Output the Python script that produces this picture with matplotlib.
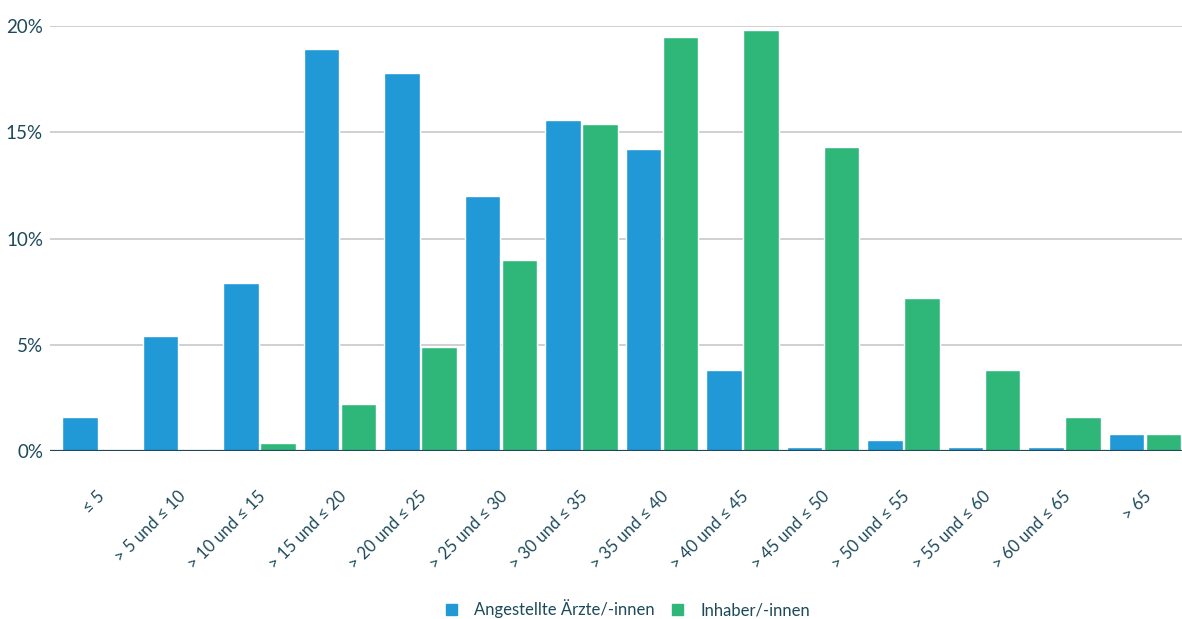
import numpy as np
import matplotlib
matplotlib.use("Agg")
import matplotlib.pyplot as plt
from matplotlib.patches import Patch

plt.rcParams['font.family'] = ['Lato', 'DejaVu Sans']

categories = ["≤ 5", "> 5 und ≤ 10", "> 10 und ≤ 15", "> 15 und ≤ 20", "> 20 und ≤ 25",
              "> 25 und ≤ 30", "> 30 und ≤ 35", "> 35 und ≤ 40", "> 40 und ≤ 45",
              "> 45 und ≤ 50", "> 50 und ≤ 55", "> 55 und ≤ 60", "> 60 und ≤ 65", "> 65"]
angestellte = [1.6, 5.4, 7.9, 18.9, 17.8, 12.0, 15.6, 14.2, 3.8, 0.2, 0.5, 0.2, 0.2, 0.8]
inhaber = [0.0, 0.1, 0.4, 2.2, 4.9, 9.0, 15.4, 19.5, 19.8, 14.3, 7.2, 3.8, 1.6, 0.8]

blue = '#2199d6'
green = '#2fb77a'
txt = '#1d4a5a'

fig = plt.figure(figsize=(11.82, 6.19), dpi=100)
ax = fig.add_axes([50 / 1182, 1 - 451 / 619, 1 - 50 / 1182, (451 - 26) / 619])

x = np.arange(len(categories))
w = 0.44
ax.bar(x - 0.23, angestellte, w, color=blue, edgecolor='white', linewidth=1.0, zorder=2)
ax.bar(x + 0.23, inhaber, w, color=green, edgecolor='white', linewidth=1.0, zorder=2)

ax.set_xlim(-0.6025, 13.46)
ax.set_ylim(0, 20)
ax.set_yticks([0, 5, 10, 15, 20])
ax.set_yticklabels(['0%', '5%', '10%', '15%', '20%'])
ax.yaxis.grid(True, color='#c8c8c8', linewidth=1.2, zorder=0)
ax.set_axisbelow(True)
ax.axhline(0, color=txt, linewidth=1.6, zorder=3)
for s in ax.spines.values():
    s.set_visible(False)

ax.set_xticks(x + 0.05)
ax.set_xticklabels(categories, rotation=45, ha='right', va='center', rotation_mode='anchor')
ax.tick_params(axis='x', length=0, pad=31, labelsize=12, labelcolor=txt)
ax.tick_params(axis='y', length=0, pad=5, labelsize=13.5, labelcolor=txt)

handles = [Patch(color=blue, label='Angestellte Ärzte/-innen'),
           Patch(color=green, label='Inhaber/-innen')]
fig.legend(handles=handles, loc='center left', bbox_to_anchor=(446 / 1182, 1 - 609 / 619), ncol=2,
           frameon=False, fontsize=12, labelcolor=txt, handlelength=0.66, handleheight=0.66,
           columnspacing=1.0, handletextpad=1.05, borderaxespad=0, borderpad=0)

fig.savefig('out.png', dpi=100)
